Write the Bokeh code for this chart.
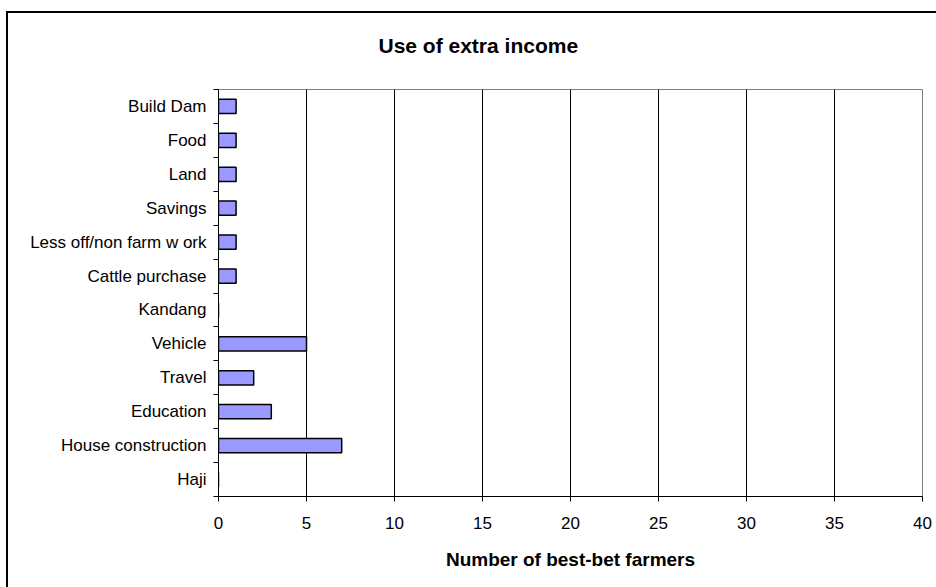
from bokeh.plotting import figure
from bokeh.models import FixedTicker, Title, ColumnDataSource, Range1d, InlineStyleSheet
from bokeh.embed import file_html
from bokeh.resources import INLINE

categories = ["Haji", "House construction", "Education", "Travel", "Vehicle", "Kandang",
              "Cattle purchase", "Less off/non farm w ork", "Savings", "Land", "Food", "Build Dam"]
values = [0, 7, 3, 2, 5, 0, 1, 1, 1, 1, 1, 1]
x_ticks = [0, 5, 10, 15, 20, 25, 30, 35, 40]
title_text = "Use of extra income"
x_label = "Number of best-bet farmers"

FONT = "Liberation Sans"

pos = [i + 0.5 for i in range(len(categories))]
src = ColumnDataSource(dict(y=pos, v=values, cat=categories))

p = figure(width=936, height=587, output_backend="svg", toolbar_location=None,
           x_range=Range1d(0, 40), y_range=Range1d(0, len(categories)),
           min_border_left=218, min_border_right=14, min_border_top=89, min_border_bottom=91)

p.hbar(y="y", left=0, right="v", height=0.42, source=src,
       fill_color="#9999FF", line_color="black", line_width=1.5)

# axes
xa = p.xaxis[0]
xa.ticker = FixedTicker(ticks=x_ticks)
xa.axis_line_color = "black"
xa.major_tick_line_color = "black"
xa.major_tick_out = 5
xa.major_tick_in = 0
xa.minor_tick_line_color = None
xa.major_label_text_font = FONT
xa.major_label_text_font_size = "17px"
xa.major_label_text_color = "black"
xa.major_label_standoff = 15
xa.axis_label = x_label
xa.axis_label_text_font = FONT
xa.axis_label_text_font_size = "19px"
xa.axis_label_text_font_style = "bold"
xa.axis_label_text_color = "black"
xa.axis_label_standoff = 17

ya = p.yaxis[0]
ya.ticker = FixedTicker(ticks=pos, minor_ticks=list(range(len(categories) + 1)))
ya.major_label_overrides = {pv: c for pv, c in zip(pos, categories)}
ya.axis_line_color = "black"
ya.major_tick_out = 0
ya.major_tick_in = 0
ya.minor_tick_line_color = "black"
ya.minor_tick_out = 5
ya.minor_tick_in = 0
ya.major_label_text_font = FONT
ya.major_label_text_font_size = "17px"
ya.major_label_text_color = "black"
ya.major_label_standoff = 7

p.xgrid.ticker = FixedTicker(ticks=x_ticks)
p.xgrid.grid_line_color = "black"
p.xgrid.grid_line_width = 1
p.ygrid.grid_line_color = None
p.outline_line_color = "#808080"
p.background_fill_color = "white"
p.border_fill_color = "white"

p.add_layout(Title(text=title_text, align="left", offset=160, vertical_align="middle",
                   standoff=64, text_font=FONT, text_font_size="21px",
                   text_font_style="bold", text_color="black"), "above")

# outer chart border (left and top edges visible in the window)
p.stylesheets = [InlineStyleSheet(css="""
:host { position: relative; }
:host::after { content: ""; position: absolute; left: 6px; top: 11px; right: 0; bottom: 0;
  border-left: 2px solid black; border-top: 2px solid black; pointer-events: none; }
""")]

open("out.html", "w").write(file_html(p, INLINE))
